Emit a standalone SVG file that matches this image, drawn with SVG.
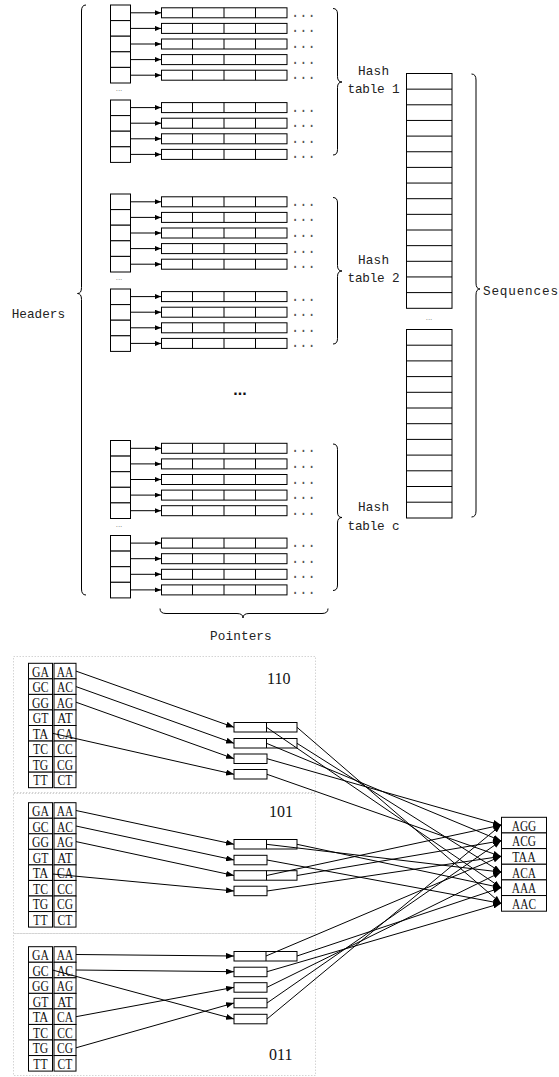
<svg xmlns="http://www.w3.org/2000/svg" xmlns:xlink="http://www.w3.org/1999/xlink" width="559" height="1077" viewBox="0 0 559 1077">
  <style>
    .box { fill: #fff; stroke: #000; stroke-width: 1; }
    .ln { fill: none; stroke: #000; stroke-width: 1; }
    .frame { fill: none; stroke: #d4d4d4; stroke-width: 1; stroke-dasharray: 1.5 1.5; }
    .mono { font-family: "Liberation Mono", "DejaVu Sans Mono", monospace; font-size: 12.7px; fill: #222; }
    .dots { font-family: "Liberation Mono", "DejaVu Sans Mono", monospace; font-size: 13.8px; fill: #555; }
    .tiny { font-family: "Liberation Sans", sans-serif; font-size: 8px; fill: #777; text-anchor: middle; }
    .cell { font-family: "Liberation Serif", serif; font-size: 15px; fill: #111; text-anchor: middle; }
    .num { font-family: "Liberation Serif", serif; font-size: 16px; fill: #111; }
  </style>
  <defs>
    <marker id="ah" viewBox="0 0 6 5" refX="6" refY="2.5" markerWidth="6" markerHeight="5" markerUnits="userSpaceOnUse" orient="auto">
      <path d="M0,0 L6,2.5 L0,5 Z" fill="#000"/>
    </marker>
    <marker id="ah2" viewBox="0 0 8 6" refX="8" refY="3" markerWidth="8" markerHeight="6" markerUnits="userSpaceOnUse" orient="auto">
      <path d="M0,0 L8,3 L0,6 Z" fill="#000"/>
    </marker>

    <!-- one pointer row: four slots and trailing dots -->
    <g id="prow">
      <rect class="box" x="161.5" y="-5" width="125.5" height="10"/>
      <path class="ln" d="M192.5,-5v10M224,-5v10M255.5,-5v10"/>
      <text class="dots" x="291" y="4">...</text>
    </g>

    <!-- hash table: header cells, pointer rows and right brace -->
    <g id="tbl">
      <g class="box">
        <rect x="110.5" y="5" width="20" height="15.6"/>
        <rect x="110.5" y="20.6" width="20" height="15.6"/>
        <rect x="110.5" y="36.2" width="20" height="15.6"/>
        <rect x="110.5" y="51.8" width="20" height="15.6"/>
        <rect x="110.5" y="67.4" width="20" height="15.6"/>
        <rect x="110.5" y="100" width="20" height="15.6"/>
        <rect x="110.5" y="115.6" width="20" height="15.6"/>
        <rect x="110.5" y="131.2" width="20" height="15.6"/>
        <rect x="110.5" y="146.8" width="20" height="15.6"/>
      </g>
      <text class="tiny" x="119" y="91">...</text>
      <use xlink:href="#prow" y="12.8"/>
      <use xlink:href="#prow" y="28.4"/>
      <use xlink:href="#prow" y="44"/>
      <use xlink:href="#prow" y="59.6"/>
      <use xlink:href="#prow" y="75.2"/>
      <use xlink:href="#prow" y="107.6"/>
      <use xlink:href="#prow" y="123.2"/>
      <use xlink:href="#prow" y="138.8"/>
      <use xlink:href="#prow" y="154.4"/>
      <path class="ln" d="M333,8.5 Q337.5,8.5 337.5,14 V76.5 Q337.5,82 342,82 Q337.5,82 337.5,87.5 V149.5 Q337.5,155 333,155"/>
    </g>

    <!-- header-to-row arrows of one hash table -->
    <g id="tbl-arrows" class="ln" marker-end="url(#ah)">
      <path d="M130.5,12.8H161"/>
      <path d="M130.5,28.4H161"/>
      <path d="M130.5,44H161"/>
      <path d="M130.5,59.6H161"/>
      <path d="M130.5,75.2H161"/>
      <path d="M130.5,107.6H161"/>
      <path d="M130.5,123.2H161"/>
      <path d="M130.5,138.8H161"/>
      <path d="M130.5,154.4H161"/>
    </g>

    <!-- 2-mer lookup grid -->
    <g id="grid">
      <g class="box">
        <rect x="28.5" y="0" width="24" height="15.55"/>
        <rect x="28.5" y="15.55" width="24" height="15.55"/>
        <rect x="28.5" y="31.1" width="24" height="15.55"/>
        <rect x="28.5" y="46.65" width="24" height="15.55"/>
        <rect x="28.5" y="62.2" width="24" height="15.55"/>
        <rect x="28.5" y="77.75" width="24" height="15.55"/>
        <rect x="28.5" y="93.3" width="24" height="15.55"/>
        <rect x="28.5" y="108.85" width="24" height="15.55"/>
        <rect x="54" y="0" width="22" height="15.55"/>
        <rect x="54" y="15.55" width="22" height="15.55"/>
        <rect x="54" y="31.1" width="22" height="15.55"/>
        <rect x="54" y="46.65" width="22" height="15.55"/>
        <rect x="54" y="62.2" width="22" height="15.55"/>
        <rect x="54" y="77.75" width="22" height="15.55"/>
        <rect x="54" y="93.3" width="22" height="15.55"/>
        <rect x="54" y="108.85" width="22" height="15.55"/>
      </g>
      <g class="cell">
        <text x="40.5" y="13.3" textLength="16.9" lengthAdjust="spacingAndGlyphs">GA</text>
        <text x="40.5" y="28.85" textLength="16.2" lengthAdjust="spacingAndGlyphs">GC</text>
        <text x="40.5" y="44.4" textLength="16.9" lengthAdjust="spacingAndGlyphs">GG</text>
        <text x="40.5" y="59.95" textLength="15.6" lengthAdjust="spacingAndGlyphs">GT</text>
        <text x="40.5" y="75.5" textLength="15.6" lengthAdjust="spacingAndGlyphs">TA</text>
        <text x="40.5" y="91.05" textLength="15" lengthAdjust="spacingAndGlyphs">TC</text>
        <text x="40.5" y="106.6" textLength="15.6" lengthAdjust="spacingAndGlyphs">TG</text>
        <text x="40.5" y="122.15" textLength="14.3" lengthAdjust="spacingAndGlyphs">TT</text>
        <text x="65" y="13.3" textLength="16.4" lengthAdjust="spacingAndGlyphs">AA</text>
        <text x="65" y="28.85" textLength="16" lengthAdjust="spacingAndGlyphs">AC</text>
        <text x="65" y="44.4" textLength="16.4" lengthAdjust="spacingAndGlyphs">AG</text>
        <text x="65" y="59.95" textLength="15.4" lengthAdjust="spacingAndGlyphs">AT</text>
        <text x="65" y="75.5" textLength="16" lengthAdjust="spacingAndGlyphs">CA</text>
        <text x="65" y="91.05" textLength="15.4" lengthAdjust="spacingAndGlyphs">CC</text>
        <text x="65" y="106.6" textLength="16" lengthAdjust="spacingAndGlyphs">CG</text>
        <text x="65" y="122.15" textLength="14.8" lengthAdjust="spacingAndGlyphs">CT</text>
      </g>
    </g>
  </defs>

  <rect width="559" height="1077" fill="#fff"/>

  <!-- ===== upper figure: hash tables ===== -->
  <g id="headers-label">
    <path class="ln" d="M86,5 Q81.5,5 81.5,11 V287.5 Q81.5,293.5 77.5,293.5 Q81.5,293.5 81.5,299.5 V589 Q81.5,595 86,595"/>
    <text class="mono" x="11.7" y="318" textLength="53.3">Headers</text>
  </g>

  <g id="hash-table-1">
    <use xlink:href="#tbl"/>
    <text class="mono" x="358" y="75" textLength="31">Hash</text>
    <text class="mono" x="347.5" y="93" textLength="52">table 1</text>
  </g>

  <g id="hash-table-2">
    <use xlink:href="#tbl" y="189"/>
    <text class="mono" x="358" y="264" textLength="31">Hash</text>
    <text class="mono" x="347.5" y="282" textLength="52">table 2</text>
  </g>

  <g id="more-tables">
    <text x="240" y="395" font-family="Liberation Sans, sans-serif" font-size="16" font-weight="bold" text-anchor="middle" fill="#111">...</text>
  </g>

  <g id="hash-table-c">
    <use xlink:href="#tbl" y="435.5"/>
    <text class="mono" x="358" y="510.5" textLength="31">Hash</text>
    <text class="mono" x="347.5" y="530" textLength="52">table c</text>
  </g>

  <g id="pointers-label">
    <path class="ln" d="M160,608.5 Q160,613.5 166,613.5 H237 Q243,613.5 243,618 Q243,613.5 249,613.5 H322 Q328,613.5 328,608.5"/>
    <text class="mono" x="210" y="640" textLength="61.7">Pointers</text>
  </g>

  <g id="sequences">
    <rect class="box" x="406.5" y="73.5" width="45.5" height="234.8"/>
    <path class="ln" d="M406.5,89.15H452M406.5,104.8H452M406.5,120.45H452M406.5,136.1H452M406.5,151.75H452M406.5,167.4H452M406.5,183.05H452M406.5,198.7H452M406.5,214.35H452M406.5,230H452M406.5,245.65H452M406.5,261.3H452M406.5,276.95H452M406.5,292.6H452"/>
    <text class="tiny" x="429" y="320">...</text>
    <rect class="box" x="406.5" y="329.5" width="45.5" height="188.5"/>
    <path class="ln" d="M406.5,345.2H452M406.5,360.9H452M406.5,376.6H452M406.5,392.3H452M406.5,408H452M406.5,423.7H452M406.5,439.4H452M406.5,455.1H452M406.5,470.8H452M406.5,486.5H452M406.5,502.2H452"/>
    <path class="ln" d="M471.5,74 Q476,74 476,80 V283 Q476,289 480,289 Q476,289 476,295 V511 Q476,517 471.5,517"/>
    <text class="mono" x="483" y="295" textLength="75">Sequences</text>
  </g>

  <!-- ===== lower figure: spaced seeds 110 / 101 / 011 ===== -->
  <g id="seed-110">
    <rect class="frame" x="13.5" y="656.5" width="302" height="136"/>
    <use xlink:href="#grid" y="663.3"/>
    <text class="num" x="267" y="684">110</text>
    <g class="box">
      <rect x="234" y="722.5" width="63" height="9.5"/>
      <rect x="234" y="738.5" width="63" height="9.5"/>
      <rect x="234" y="754" width="33" height="9.5"/>
      <rect x="234" y="769.5" width="33" height="9.5"/>
    </g>
    <path class="ln" d="M266.5,722.5v9.5M266.5,738.5v9.5"/>
  </g>

  <g id="seed-101">
    <rect class="frame" x="13.5" y="793.5" width="302" height="140"/>
    <use xlink:href="#grid" y="802.7"/>
    <text class="num" x="269" y="817">101</text>
    <g class="box">
      <rect x="234" y="839.5" width="63" height="9.5"/>
      <rect x="234" y="855.3" width="33" height="9.5"/>
      <rect x="234" y="870.7" width="63" height="9.5"/>
      <rect x="234" y="886.2" width="33" height="9.5"/>
    </g>
    <path class="ln" d="M266.5,839.5v9.5M266.5,870.7v9.5"/>
  </g>

  <g id="seed-011">
    <rect class="frame" x="13.5" y="933.5" width="302" height="142"/>
    <use xlink:href="#grid" y="946.7"/>
    <text class="num" x="269" y="1060">011</text>
    <g class="box">
      <rect x="234" y="951.5" width="63" height="9.5"/>
      <rect x="234" y="967.2" width="33" height="9.5"/>
      <rect x="234" y="982.7" width="33" height="9.5"/>
      <rect x="234" y="998.3" width="33" height="9.5"/>
      <rect x="234" y="1014.3" width="33" height="9.5"/>
    </g>
    <path class="ln" d="M266,951.5v9.5"/>
  </g>

  <g id="kmers">
    <g class="box">
      <rect x="501.5" y="817.3" width="45" height="15.65"/>
      <rect x="501.5" y="832.95" width="45" height="15.65"/>
      <rect x="501.5" y="848.6" width="45" height="15.65"/>
      <rect x="501.5" y="864.25" width="45" height="15.65"/>
      <rect x="501.5" y="879.9" width="45" height="15.65"/>
      <rect x="501.5" y="895.55" width="45" height="15.65"/>
    </g>
    <g class="cell">
      <text x="524" y="830.6" textLength="24.5" lengthAdjust="spacingAndGlyphs">AGG</text>
      <text x="524" y="846.3" textLength="24" lengthAdjust="spacingAndGlyphs">ACG</text>
      <text x="524" y="861.9" textLength="23.5" lengthAdjust="spacingAndGlyphs">TAA</text>
      <text x="524" y="877.6" textLength="24" lengthAdjust="spacingAndGlyphs">ACA</text>
      <text x="524" y="893.2" textLength="24.5" lengthAdjust="spacingAndGlyphs">AAA</text>
      <text x="524" y="908.9" textLength="24" lengthAdjust="spacingAndGlyphs">AAC</text>
    </g>
  </g>

  <!-- ===== connectors ===== -->
  <g id="connectors">
    <use xlink:href="#tbl-arrows"/>
    <use xlink:href="#tbl-arrows" y="189"/>
    <use xlink:href="#tbl-arrows" y="435.5"/>

    <g class="ln" marker-end="url(#ah2)">
      <!-- 2-mer cells to pointer rows -->
      <path d="M76,671.1L234,727.3"/>
      <path d="M76,686.6L234,743.3"/>
      <path d="M76,702.2L234,758.7"/>
      <path d="M52.5,733.3L234,774.3"/>

      <path d="M76,810.5L234,844.3"/>
      <path d="M76,826L234,860"/>
      <path d="M76,841.6L234,875.5"/>
      <path d="M52.5,874L234,891"/>

      <path d="M76,954.5L234,956"/>
      <path d="M76,970L234,971.7"/>
      <path d="M52.5,970L234,1019"/>
      <path d="M76,1016.7L234,987.3"/>
      <path d="M76,1047.8L234,1003"/>

      <!-- pointer slots to 3-mers -->
      <path d="M266.5,727.3L501,887.7"/>
      <path d="M297,727.3L501,903.4"/>
      <path d="M266.5,743.3L501,840.8"/>
      <path d="M297,743.3L501,872.1"/>
      <path d="M267,758.7L501,825.1"/>
      <path d="M267,774.3L501,856.4"/>

      <path d="M266.5,844.3L501,872.1"/>
      <path d="M297,844.3L501,887.7"/>
      <path d="M267,860L501,903.4"/>
      <path d="M266.5,875.5L501,825.1"/>
      <path d="M297,875.5L501,840.8"/>
      <path d="M267,891L501,856.4"/>

      <path d="M266,956L501,856.4"/>
      <path d="M297,956L501,887.7"/>
      <path d="M267,971.7L501,903.4"/>
      <path d="M267,987.3L501,872.1"/>
      <path d="M267,1003L501,840.8"/>
      <path d="M267,1019L501,825.1"/>
    </g>
  </g>
</svg>
